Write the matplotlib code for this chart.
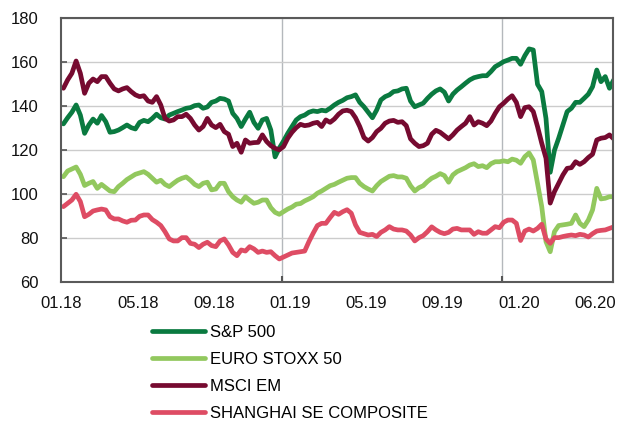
import matplotlib
matplotlib.use("Agg")
import matplotlib.pyplot as plt
import pandas as pd

plt.rcParams['font.family'] = ['Liberation Sans', 'DejaVu Sans']

# weekly readings, first week ending 05.01.2018
start = "2018-01-05"

sp500 = [
    132, 134.8, 137.3, 140.6, 136, 127.7, 131.5, 134.2, 132.3, 135.8,
    133, 128.2, 128.5, 129.2, 130.3, 131.5, 130.3, 129.7, 132.7, 133.6,
    133, 134.5, 136.4, 134.8, 134.2, 136, 136.8, 137.6, 138.3, 139.1,
    139.4, 140.3, 140.6, 139.1, 139.7, 141.8, 142.4, 143.6, 143.3, 142.4,
    136.8, 134.5, 130.8, 134.2, 137.3, 132.7, 130, 133.8, 134.5, 129.2,
    117, 121, 124.2, 127.7, 130.8, 133.8, 135.3, 136, 137.3, 137.9,
    137.6, 138.2, 137.9, 139.1, 140.6, 141.8, 142.7, 143.9, 144.4, 145.2,
    141.8, 139.8, 137.3, 134.8, 138.3, 142.9, 144.4, 145.2, 146.7, 147,
    147.9, 148.2, 142.4, 139.8, 140.6, 141.4, 143.6, 145.5, 147, 147.9,
    146.4, 142.4, 145.5, 147.4, 148.9, 150.5, 152, 153, 153.5, 153.9,
    153.9, 155.8, 158, 159.1, 160.3, 161, 161.8, 161.8, 159.1, 163,
    166.1, 165.6, 150, 146.7, 134.5, 110, 120, 125.5, 131.5, 137.6,
    139.1, 141.8, 141.8, 143.6, 145.5, 148.9, 156.5, 151.2, 153.5, 148.2,
    152]

euro_stoxx = [
    108, 110.6, 111.5, 112.4, 109.1, 104, 105, 105.8, 102.7, 104.5,
    103, 101.5, 101.2, 103.5, 105, 106.7, 107.9, 109.1, 109.7, 110.3,
    109.1, 107.3, 105.5, 106.4, 104.5, 103.5, 105, 106.4, 107.3, 107.9,
    106.4, 104.5, 103.5, 105, 105.5, 102, 102.4, 105, 105, 101.2,
    98.9, 97.4, 96.4, 98.9, 97.3, 95.9, 96.4, 97.4, 97.4, 93.9,
    91.8, 90.9, 92.1, 93.3, 94.2, 95.5, 95.8, 97, 97.9, 98.9,
    100.5, 101.5, 102.7, 103.9, 104.5, 105.5, 106.4, 107.3, 107.6, 107.6,
    105, 103.5, 102.4, 101.5, 103.9, 105.8, 107, 108.2, 108.5, 107.9,
    107.9, 107.3, 103.9, 101.5, 103, 103.9, 105.8, 107.3, 108.2, 109.4,
    108.5, 105.5, 108.8, 110.3, 111.2, 112.1, 113.3, 113.9, 112.6, 113,
    112.1, 113.9, 114.8, 114.8, 115.2, 114.8, 116, 115.5, 114.1, 117.1,
    118.8, 115.6, 105, 94.4, 78.5, 73.9, 83, 85.8, 86.1, 86.4,
    86.8, 90.6, 86.8, 85.3, 88.3, 92.9, 102.7, 97.9, 98.2, 98.9,
    98.9]

msci_em = [
    148.2, 152, 155, 160.6, 155, 145.9, 150.5, 152.4, 151.2, 153.5,
    153.5, 150.5, 147.9, 147, 147.9, 148.5, 146.7, 145.2, 144.4, 144.8,
    142.4, 141.8, 144.4, 140.6, 134.5, 133.3, 133.8, 135.3, 135.3, 136.4,
    134.5, 131.5, 129.2, 130.8, 134.5, 131.5, 130.3, 131.8, 128.5, 127.3,
    121.7, 123.2, 119.1, 124.7, 123.2, 123.5, 123.6, 127, 124, 122.1,
    120.9, 120.2, 121.7, 125.5, 128.2, 130.3, 131.8, 131.2, 131.5, 132.3,
    132.7, 130.8, 133.8, 132.7, 134.2, 136.4, 137.9, 138.2, 137.6, 134.8,
    130.8, 125.8, 124.2, 125.8, 128.5, 130, 132.3, 133.3, 133.6, 132.7,
    133, 131.2, 125.2, 123.2, 121.7, 122.1, 123.2, 127.3, 129.1, 128.2,
    126.7, 125.2, 127, 129.2, 130.8, 132.3, 135.3, 131.5, 133, 132.3,
    131.2, 133.3, 136.8, 139.8, 141.4, 143.3, 144.8, 141.8, 135.3, 139.4,
    139.8, 137.6, 130.8, 123.2, 116.4, 96, 101.2, 105, 108.8, 111.8,
    112.1, 114.8, 113.6, 114.8, 116.7, 118.2, 124.7, 125.5, 125.8, 127,
    125.2]

shanghai = [
    94.4, 95.9, 97.4, 100, 96.7, 89.8, 90.9, 92.4, 92.9, 93.3,
    92.9, 89.8, 88.8, 88.8, 87.9, 87.3, 88.2, 88.3, 90, 90.6,
    90.6, 88.5, 87.3, 85.8, 83, 79.7, 78.8, 78.8, 80.3, 80.3,
    77.7, 77.3, 75.8, 77.3, 78.2, 76.7, 76.2, 78.8, 79.7, 77,
    73.6, 72.1, 74.7, 74.2, 76.2, 75.2, 73.6, 74.2, 73.6, 73.9,
    72.1, 70.6, 71.5, 72.4, 73.3, 73.6, 73.9, 74.2, 78.5, 82.3,
    85.8, 86.8, 86.8, 89.4, 91.8, 90.9, 92.1, 93, 91.4, 86.1,
    82.7, 82.1, 81.5, 81.8, 80.8, 82.7, 83.8, 85.3, 84.2, 83.8,
    83.8, 83.3, 81.5, 78.8, 80.3, 81.2, 83, 85.2, 83.8, 82.7,
    82.1, 82.7, 84.2, 84.5, 83.8, 83.8, 83.8, 81.8, 83, 82.3,
    82.3, 83.8, 85.3, 84.8, 87.3, 88.3, 88.3, 86.8, 79, 83.3,
    84.2, 83.3, 84.5, 86.4, 79.7, 77.7, 80.3, 80.3, 80.8, 81.2,
    81.5, 81.2, 81.8, 81.5, 80.6, 82.1, 83.3, 83.6, 83.8, 84.5,
    85.2]

labels = ["S&P 500", "EURO STOXX 50", "MSCI EM", "SHANGHAI SE COMPOSITE"]
colors = ["#0a7a40", "#92c85e", "#760a30", "#de4c64"]

dates = pd.date_range(start, periods=len(sp500), freq="7D")

fig = plt.figure(figsize=(6.22, 4.23), dpi=100)
ax = fig.add_axes([61 / 622, 1 - 282.3 / 423, 551.5 / 622, 264 / 423])

for vals, lab, col in zip([sp500, euro_stoxx, msci_em, shanghai], labels, colors):
    ax.plot(dates, vals, color=col, lw=3.4, label=lab, solid_capstyle="round")

ax.set_ylim(60, 180)
ax.set_yticks(range(60, 181, 20))
ax.set_xlim(pd.Timestamp("2018-01-01"), pd.Timestamp("2020-07-01"))

# labels every 126 days, year lines separately
ticks = pd.date_range("2018-01-02", periods=8, freq="126D")
ax.set_xticks(ticks)
ax.set_xticklabels([t.strftime("%m.%y") for t in ticks])
ax.set_xticks([pd.Timestamp("2019-01-01"), pd.Timestamp("2020-01-01")], minor=True)

ax.grid(axis="y", color="#cccccc", lw=1)
for d in ["2019-01-01", "2020-01-01"]:
    ax.axvline(pd.Timestamp(d), color="#b4b8bc", lw=1, zorder=0)

ax.tick_params(axis="x", which="major", length=0, pad=10, labelsize=12, colors="#111111")
ax.tick_params(axis="x", which="minor", direction="in", length=4, width=1.5, color="#555555")
ax.tick_params(axis="y", direction="in", length=4, width=1.2, color="#555555",
               pad=16, labelsize=12, labelcolor="#111111")

for s in ax.spines.values():
    s.set_color("#5a5a5a")
    s.set_linewidth(1.5)

fig.legend(loc="upper left", bbox_to_anchor=(152 / 622, 1 - 325 / 423),
           frameon=False, fontsize=12, handlelength=3.2, handletextpad=0.3,
           labelspacing=0.72, borderpad=0, borderaxespad=0)

fig.savefig("out.png", dpi=100)
